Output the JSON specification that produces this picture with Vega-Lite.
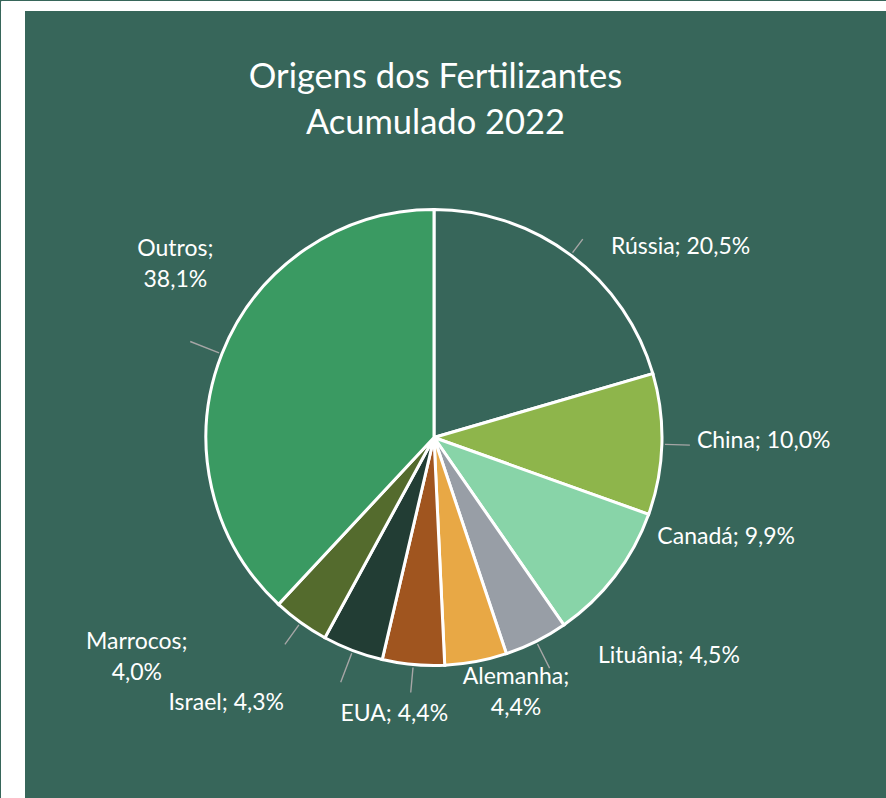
{
  "$schema": "https://vega.github.io/schema/vega-lite/v6.json",
  "background": "#37665A",
  "padding": 0,
  "config": {
    "view": {"stroke": "transparent", "strokeWidth": 0},
    "text": {"font": "Lato", "fontSize": 23, "color": "white"}
  },
  "data": {
    "values": [
      {"pais": "Rússia", "valor": 20.5, "rotulo": "Rússia; 20,5%", "ordem": 1},
      {"pais": "China", "valor": 10.0, "rotulo": "China; 10,0%", "ordem": 2},
      {"pais": "Canadá", "valor": 9.9, "rotulo": "Canadá; 9,9%", "ordem": 3},
      {"pais": "Lituânia", "valor": 4.5, "rotulo": "Lituânia; 4,5%", "ordem": 4},
      {"pais": "Alemanha", "valor": 4.4, "rotulo": "Alemanha;\n4,4%", "ordem": 5},
      {"pais": "EUA", "valor": 4.4, "rotulo": "EUA; 4,4%", "ordem": 6},
      {"pais": "Israel", "valor": 4.3, "rotulo": "Israel;  4,3%", "ordem": 7},
      {"pais": "Marrocos", "valor": 4.0, "rotulo": "Marrocos;\n4,0%", "ordem": 8},
      {"pais": "Outros", "valor": 38.1, "rotulo": "Outros;\n38,1%", "ordem": 9}
    ]
  },
  "spacing": 0,
  "bounds": "flush",
  "vconcat": [
    {
      "width": 886,
      "height": 9,
      "view": {"fill": "white", "stroke": "white", "strokeWidth": 1},
      "data": {"values": [{}]},
      "mark": {"type": "text", "fontSize": 0, "baseline": "top", "align": "left"},
      "encoding": {"text": {"value": ""}}
    },
    {
      "spacing": 0,
      "bounds": "flush",
      "hconcat": [
        {
          "width": 23,
          "height": 789,
          "view": {"fill": "white", "stroke": "white", "strokeWidth": 1},
          "data": {"values": [{}]},
          "mark": {"type": "text", "fontSize": 0, "baseline": "top", "align": "left"},
          "encoding": {"text": {"value": ""}}
        },
        {
          "spacing": 0,
          "bounds": "flush",
          "vconcat": [
            {
              "width": 863,
              "height": 66,
              "data": {"values": [{}]},
              "mark": {"type": "text", "fontSize": 0, "baseline": "top", "align": "left"},
              "encoding": {"text": {"value": ""}}
            },
            {
              "spacing": 0,
              "bounds": "flush",
              "hconcat": [
                {
                  "width": 820,
                  "height": 723,
                  "layer": [
                    {
                      "mark": {"type": "arc", "outerRadius": 228, "stroke": "white", "strokeWidth": 3},
                      "encoding": {
                        "theta": {"field": "valor", "type": "quantitative", "stack": true},
                        "order": {"field": "ordem", "type": "quantitative"},
                        "color": {
                          "field": "pais",
                          "type": "nominal",
                          "scale": {
                            "domain": ["Rússia", "China", "Canadá", "Lituânia", "Alemanha", "EUA", "Israel", "Marrocos", "Outros"],
                            "range": ["#37665A", "#8EB54B", "#88D4A8", "#989EA6", "#E8A845", "#A0551F", "#223D34", "#546B2D", "#3A9A62"]
                          },
                          "legend": null
                        }
                      }
                    },
                    {
                      "mark": {"type": "arc", "radius2": 231, "radius": 248, "padAngle": 3.1, "fill": "#A6A6A6", "stroke": "#A6A6A6", "strokeWidth": 1.4},
                      "encoding": {
                        "theta": {"field": "valor", "type": "quantitative", "stack": true},
                        "order": {"field": "ordem", "type": "quantitative"},
                        "strokeOpacity": {"condition": {"test": "datum.pais === 'Rússia'", "value": 1}, "value": 0}, "fillOpacity": {"value": 0}}
                    },
                    {
                      "mark": {"type": "arc", "radius2": 231, "radius": 256, "padAngle": 3.1, "fill": "#A6A6A6", "stroke": "#A6A6A6", "strokeWidth": 1.4},
                      "encoding": {
                        "theta": {"field": "valor", "type": "quantitative", "stack": true},
                        "order": {"field": "ordem", "type": "quantitative"},
                        "strokeOpacity": {"condition": {"test": "datum.pais === 'China' || datum.pais === 'EUA'", "value": 1}, "value": 0}, "fillOpacity": {"value": 0}}
                    },
                    {
                      "mark": {"type": "arc", "radius2": 231, "radius": 258, "padAngle": 3.1, "fill": "#A6A6A6", "stroke": "#A6A6A6", "strokeWidth": 1.4},
                      "encoding": {
                        "theta": {"field": "valor", "type": "quantitative", "stack": true},
                        "order": {"field": "ordem", "type": "quantitative"},
                        "strokeOpacity": {"condition": {"test": "datum.pais === 'Lituânia'", "value": 1}, "value": 0}, "fillOpacity": {"value": 0}}
                    },
                    {
                      "mark": {"type": "arc", "radius2": 231, "radius": 262, "padAngle": 3.1, "fill": "#A6A6A6", "stroke": "#A6A6A6", "strokeWidth": 1.4},
                      "encoding": {
                        "theta": {"field": "valor", "type": "quantitative", "stack": true},
                        "order": {"field": "ordem", "type": "quantitative"},
                        "strokeOpacity": {"condition": {"test": "datum.pais === 'Israel' || datum.pais === 'Outros'", "value": 1}, "value": 0}, "fillOpacity": {"value": 0}}
                    },
                    {
                      "mark": {"type": "arc", "radius2": 231, "radius": 255, "padAngle": 3.1, "fill": "#A6A6A6", "stroke": "#A6A6A6", "strokeWidth": 1.4},
                      "encoding": {
                        "theta": {"field": "valor", "type": "quantitative", "stack": true},
                        "order": {"field": "ordem", "type": "quantitative"},
                        "strokeOpacity": {"condition": {"test": "datum.pais === 'Marrocos'", "value": 1}, "value": 0}, "fillOpacity": {"value": 0}}
                    },
                    {
                      "mark": {"type": "text", "radius": 250, "align": "left", "baseline": "middle", "dx": 27, "dy": 9.5},
                      "encoding": {
                        "theta": {"field": "valor", "type": "quantitative", "stack": true},
                        "order": {"field": "ordem", "type": "quantitative"},
                        "text": {"condition": {"test": "datum.pais === 'Rússia'", "field": "rotulo", "type": "nominal"}, "value": ""}}
                    },
                    {
                      "mark": {"type": "text", "radius": 250, "align": "left", "baseline": "middle", "dx": 13, "dy": -4},
                      "encoding": {
                        "theta": {"field": "valor", "type": "quantitative", "stack": true},
                        "order": {"field": "ordem", "type": "quantitative"},
                        "text": {"condition": {"test": "datum.pais === 'China'", "field": "rotulo", "type": "nominal"}, "value": ""}}
                    },
                    {
                      "mark": {"type": "text", "radius": 250, "align": "left", "baseline": "middle", "dx": 25, "dy": -53},
                      "encoding": {
                        "theta": {"field": "valor", "type": "quantitative", "stack": true},
                        "order": {"field": "ordem", "type": "quantitative"},
                        "text": {"condition": {"test": "datum.pais === 'Canadá'", "field": "rotulo", "type": "nominal"}, "value": ""}}
                    },
                    {
                      "mark": {"type": "text", "radius": 250, "align": "left", "baseline": "middle", "dx": 52, "dy": -5.5},
                      "encoding": {
                        "theta": {"field": "valor", "type": "quantitative", "stack": true},
                        "order": {"field": "ordem", "type": "quantitative"},
                        "text": {"condition": {"test": "datum.pais === 'Lituânia'", "field": "rotulo", "type": "nominal"}, "value": ""}}
                    },
                    {
                      "mark": {"type": "text", "radius": 250, "align": "center", "baseline": "top", "lineBreak": "\n", "lineHeight": 31, "dx": 36, "dy": -17},
                      "encoding": {
                        "theta": {"field": "valor", "type": "quantitative", "stack": true},
                        "order": {"field": "ordem", "type": "quantitative"},
                        "text": {"condition": {"test": "datum.pais === 'Alemanha'", "field": "rotulo", "type": "nominal"}, "value": ""}}
                    },
                    {
                      "mark": {"type": "text", "radius": 250, "align": "center", "baseline": "middle", "dx": -17, "dy": 28},
                      "encoding": {
                        "theta": {"field": "valor", "type": "quantitative", "stack": true},
                        "order": {"field": "ordem", "type": "quantitative"},
                        "text": {"condition": {"test": "datum.pais === 'EUA'", "field": "rotulo", "type": "nominal"}, "value": ""}}
                    },
                    {
                      "mark": {"type": "text", "radius": 250, "align": "right", "baseline": "middle", "dx": -61, "dy": 31.5},
                      "encoding": {
                        "theta": {"field": "valor", "type": "quantitative", "stack": true},
                        "order": {"field": "ordem", "type": "quantitative"},
                        "text": {"condition": {"test": "datum.pais === 'Israel'", "field": "rotulo", "type": "nominal"}, "value": ""}}
                    },
                    {
                      "mark": {"type": "text", "radius": 250, "align": "center", "baseline": "top", "lineBreak": "\n", "lineHeight": 31, "dx": -151, "dy": -9},
                      "encoding": {
                        "theta": {"field": "valor", "type": "quantitative", "stack": true},
                        "order": {"field": "ordem", "type": "quantitative"},
                        "text": {"condition": {"test": "datum.pais === 'Marrocos'", "field": "rotulo", "type": "nominal"}, "value": ""}}
                    },
                    {
                      "mark": {"type": "text", "radius": 250, "align": "center", "baseline": "top", "lineBreak": "\n", "lineHeight": 31, "dx": -26, "dy": -108},
                      "encoding": {
                        "theta": {"field": "valor", "type": "quantitative", "stack": true},
                        "order": {"field": "ordem", "type": "quantitative"},
                        "text": {"condition": {"test": "datum.pais === 'Outros'", "field": "rotulo", "type": "nominal"}, "value": ""}}
                    },
                    {
                      "data": {"values": [{"titulo": "Origens dos Fertilizantes\nAcumulado 2022"}]},
                      "mark": {"type": "text", "align": "center", "baseline": "alphabetic", "lineBreak": "\n", "lineHeight": 46, "fontSize": 34.5, "dx": 1.5, "dy": -350},
                      "encoding": {"text": {"field": "titulo", "type": "nominal"}}
                    }
                  ]
                },
                {
                  "width": 43,
                  "height": 723,
                  "data": {"values": [{}]},
                  "mark": {"type": "text", "fontSize": 0, "baseline": "top", "align": "left"},
                  "encoding": {"text": {"value": ""}}
                }
              ]
            }
          ]
        }
      ]
    }
  ]
}
